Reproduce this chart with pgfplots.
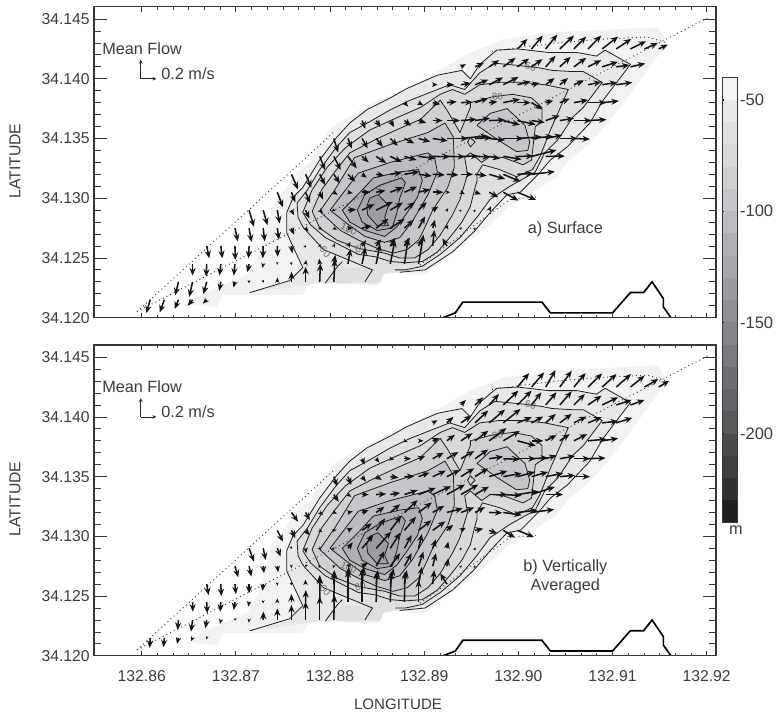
\documentclass[border=0pt]{standalone}
\usepackage{pgfplots}
\usepackage{pgfplotstable}
\usepackage{fontspec}
\setmainfont{Liberation Sans}
\pgfplotsset{compat=1.18}
\usetikzlibrary{arrows.meta}
\definecolor{txt}{HTML}{3C3C3E}
\definecolor{frm}{HTML}{38383A}
\definecolor{lbl}{HTML}{6E6E72}
\definecolor{ba}{HTML}{F2F2F4}
\definecolor{bb}{HTML}{E8E8EA}
\definecolor{bc}{HTML}{DEDFE1}
\definecolor{bd}{HTML}{D8D9DB}
\definecolor{be}{HTML}{CFD0D2}
\definecolor{bf}{HTML}{C5C6C9}
\definecolor{bg}{HTML}{BBBCBF}
\definecolor{bh}{HTML}{AFB0B3}
\definecolor{bi}{HTML}{A7A8AB}
\definecolor{bj}{HTML}{9B9CA0}
\definecolor{bk}{HTML}{8F9094}
\definecolor{bl}{HTML}{85868A}
\definecolor{bm}{HTML}{7A7B7F}
\definecolor{bn}{HTML}{6D6E71}
\definecolor{bo}{HTML}{626366}
\definecolor{bp}{HTML}{58595B}
\definecolor{bq}{HTML}{4A4B4D}
\definecolor{br}{HTML}{3E3F41}
\definecolor{bs}{HTML}{303031}
\definecolor{bt}{HTML}{231F20}

% bathymetric contours (longitude, latitude)
\pgfplotstableread[row sep=\\]{x y\\
132.8648 34.1211\\132.8667 34.1221\\132.8685 34.1227\\132.8712 34.1236\\132.8726 34.1255\\132.8738 34.1293\\132.8754 34.1309\\132.8763 34.1321\\132.8779 34.1330\\132.8789 34.1346\\132.8803 34.1360\\132.8824 34.1370\\132.8846 34.1380\\132.8882 34.1392\\132.8920 34.1409\\132.8949 34.1422\\132.8975 34.1430\\132.8984 34.1433\\132.9041 34.1439\\132.9094 34.1441\\132.9148 34.1443\\132.9158 34.1430\\132.9137 34.1407\\132.9108 34.1376\\132.9095 34.1363\\132.9076 34.1346\\132.9052 34.1330\\132.9041 34.1318\\132.9015 34.1305\\132.8988 34.1292\\132.8970 34.1278\\132.8946 34.1263\\132.8924 34.1250\\132.8901 34.1236\\132.8885 34.1236\\132.8860 34.1240\\132.8850 34.1227\\132.8779 34.1229\\132.8771 34.1219\\132.8686 34.1219\\132.8680 34.1209\\
}\Cforty
\pgfplotstableread[row sep=\\]{x y\\
132.8715 34.1221\\132.8757 34.1231\\132.8771 34.1242\\132.8761 34.1259\\132.8754 34.1271\\132.8754 34.1288\\132.8761 34.1301\\132.8771 34.1309\\132.8789 34.1332\\132.8807 34.1351\\132.8821 34.1363\\132.8839 34.1374\\132.8864 34.1384\\132.8882 34.1392\\132.8914 34.1403\\132.8940 34.1407\\132.8949 34.1400\\132.8959 34.1412\\132.8977 34.1424\\132.8999 34.1425\\132.9032 34.1422\\132.9062 34.1422\\132.9083 34.1419\\132.9092 34.1424\\132.9119 34.1412\\132.9090 34.1382\\132.9076 34.1363\\132.9052 34.1343\\132.9034 34.1332\\132.9021 34.1320\\132.9002 34.1305\\132.8988 34.1303\\132.8970 34.1288\\132.8953 34.1272\\132.8930 34.1255\\132.8901 34.1240\\132.8874 34.1238\\
}\Cfifty
\pgfplotstableread[row sep=\\]{x y\\
132.8795 34.1229\\132.8807 34.1242\\132.8845 34.1242\\132.8871 34.1242\\132.8899 34.1240\\132.8858 34.1238\\132.8853 34.1229\\
}\Cbottom
\pgfplotstableread[row sep=\\]{x y\\
132.8795 34.1229\\132.8807 34.1242\\132.8813 34.1247\\
}\Cbranch
\pgfplotstableread[row sep=\\]{x y\\
132.8837 34.1230\\132.8845 34.1240\\132.8793 34.1257\\132.8771 34.1276\\132.8766 34.1284\\132.8765 34.1296\\132.8776 34.1307\\132.8789 34.1324\\132.8807 34.1343\\132.8821 34.1355\\132.8842 34.1364\\132.8864 34.1374\\132.8885 34.1382\\132.8927 34.1395\\132.8943 34.1391\\132.8959 34.1405\\132.8975 34.1413\\132.9002 34.1411\\132.9023 34.1409\\132.9036 34.1407\\132.9058 34.1406\\132.9069 34.1406\\132.9089 34.1397\\132.9069 34.1376\\132.9058 34.1368\\132.9042 34.1349\\132.9028 34.1338\\132.9018 34.1322\\132.8991 34.1310\\132.8970 34.1299\\132.8956 34.1284\\132.8938 34.1267\\132.8917 34.1253\\132.8898 34.1243\\132.8880 34.1240\\132.8869 34.1240\\
}\Csixty
\pgfplotstableread[row sep=\\]{x y\\
132.8771 34.1288\\132.8781 34.1307\\132.8797 34.1326\\132.8816 34.1342\\132.8842 34.1357\\132.8867 34.1366\\132.8896 34.1376\\132.8917 34.1387\\132.8930 34.1391\\132.8943 34.1387\\132.8959 34.1395\\132.8980 34.1397\\132.9005 34.1397\\132.9028 34.1395\\132.9053 34.1391\\132.9048 34.1382\\132.9034 34.1357\\132.9023 34.1335\\132.9015 34.1324\\132.8998 34.1318\\132.8980 34.1324\\132.8962 34.1328\\132.8956 34.1320\\132.8956 34.1314\\132.8954 34.1309\\132.8949 34.1293\\132.8940 34.1280\\132.8927 34.1267\\132.8914 34.1255\\132.8898 34.1247\\132.8880 34.1246\\132.8864 34.1247\\132.8848 34.1251\\132.8830 34.1253\\132.8795 34.1267\\132.8779 34.1278\\132.8771 34.1288\\
}\Cseventy
\pgfplotstableread[row sep=\\]{x y\\
132.8781 34.1289\\132.8791 34.1307\\132.8805 34.1322\\132.8821 34.1338\\132.8848 34.1349\\132.8867 34.1356\\132.8896 34.1366\\132.8917 34.1382\\132.8924 34.1374\\132.8938 34.1355\\132.8949 34.1376\\132.8949 34.1380\\132.8973 34.1385\\132.8994 34.1387\\132.9014 34.1384\\132.9025 34.1376\\132.9025 34.1364\\132.9018 34.1360\\132.9014 34.1332\\132.9005 34.1328\\132.8984 34.1334\\132.8970 34.1335\\132.8961 34.1330\\132.8949 34.1338\\132.8943 34.1334\\132.8946 34.1320\\132.8938 34.1299\\132.8930 34.1286\\132.8917 34.1269\\132.8904 34.1257\\132.8890 34.1250\\132.8874 34.1250\\132.8858 34.1254\\132.8830 34.1258\\132.8807 34.1265\\132.8789 34.1275\\132.8781 34.1289\\
}\Ceighty
\pgfplotstableread[row sep=\\]{x y\\
132.8789 34.1289\\132.8805 34.1307\\132.8826 34.1334\\132.8864 34.1345\\132.8904 34.1355\\132.8922 34.1363\\132.8931 34.1351\\132.8932 34.1326\\132.8925 34.1309\\132.8909 34.1290\\132.8901 34.1276\\132.8894 34.1265\\132.8882 34.1257\\132.8867 34.1254\\132.8850 34.1258\\132.8830 34.1265\\132.8811 34.1273\\132.8789 34.1289\\
}\Cninety
\pgfplotstableread[row sep=\\]{x y\\
132.8956 34.1361\\132.8970 34.1371\\132.8988 34.1375\\132.9007 34.1361\\132.9012 34.1347\\132.9010 34.1340\\132.8998 34.1339\\132.8978 34.1349\\132.8956 34.1361\\
}\Cninetyb
\pgfplotstableread[row sep=\\]{x y\\
132.8949 34.1351\\132.8954 34.1347\\132.8949 34.1343\\132.8946 34.1347\\132.8949 34.1351\\
}\Cdiamond
\pgfplotstableread[row sep=\\]{x y\\
132.8800 34.1290\\132.8830 34.1321\\132.8864 34.1330\\132.8904 34.1338\\132.8911 34.1334\\132.8914 34.1322\\132.8904 34.1303\\132.8887 34.1280\\132.8874 34.1267\\132.8858 34.1263\\132.8837 34.1268\\132.8816 34.1280\\132.8800 34.1290\\
}\Chundred
\pgfplotstableread[row sep=\\]{x y\\
132.8813 34.1290\\132.8832 34.1305\\132.8846 34.1317\\132.8874 34.1322\\132.8894 34.1324\\132.8898 34.1315\\132.8893 34.1301\\132.8882 34.1288\\132.8871 34.1276\\132.8858 34.1268\\132.8837 34.1273\\132.8821 34.1280\\132.8813 34.1290\\
}\Choneten
\pgfplotstableread[row sep=\\]{x y\\
132.8829 34.1290\\132.8837 34.1303\\132.8853 34.1311\\132.8876 34.1317\\132.8880 34.1313\\132.8874 34.1300\\132.8871 34.1288\\132.8866 34.1275\\132.8850 34.1273\\132.8834 34.1280\\132.8829 34.1290\\
}\Chontwenty
\pgfplotstableread[row sep=\\]{x y\\
132.8842 34.1300\\132.8851 34.1303\\132.8862 34.1294\\132.8858 34.1284\\132.8862 34.1277\\132.8850 34.1277\\132.8840 34.1286\\132.8839 34.1293\\132.8842 34.1300\\
}\Chonthirty
% survey tracks
\pgfplotstableread[row sep=\\]{x y\\132.8595 34.1205\\132.8805 34.1356\\}\Lone
\pgfplotstableread[row sep=\\]{x y\\132.8595 34.1205\\132.9201 34.1451\\}\Ltwo
\pgfplotstableread[row sep=\\]{x y\\132.8892 34.1242\\132.8991 34.1299\\132.9019 34.1301\\}\Lthree
\pgfplotstableread[row sep=\\]{x y\\132.8972 34.1423\\132.8999 34.1426\\132.9041 34.1430\\132.9085 34.1433\\132.9137 34.1435\\132.9158 34.1430\\}\Lfour
% coast
\pgfplotstableread[row sep=\\]{x y\\132.8920 34.1200\\132.8933 34.1204\\132.8941 34.1213\\132.9025 34.1213\\132.9034 34.1204\\132.9100 34.1204\\132.9119 34.1221\\132.9133 34.1221\\132.9142 34.1230\\132.9154 34.1216\\132.9154 34.1209\\132.9162 34.1200\\}\Coast

% flow vectors: lon lat u v; u in 1/47 and v in 1/57 of the 0.2 m/s key arrow
\pgfplotstableread[row sep=\\]{lon lat u v\\
132.8609 34.1215 -12 -40\\132.8624 34.1215 -14 -38\\132.8639 34.1215 -12 -28\\132.8654 34.1215 -15 -18\\132.8669 34.1215 -12 -12\\
132.8639 34.1230 -10 -40\\132.8654 34.1230 -10 -45\\132.8669 34.1230 -10 -37\\132.8684 34.1230 -5 -27\\132.8699 34.1230 -5 -17\\132.8714 34.1230 0 -5\\132.8729 34.1230 1 -3\\132.8744 34.1230 0 13\\132.8759 34.1230 0 30\\132.8774 34.1230 0 45\\132.8789 34.1230 2 55\\132.8804 34.1230 3 68\\
132.8654 34.1245 0 -35\\132.8669 34.1245 -2 -38\\132.8684 34.1245 -4 -35\\132.8699 34.1245 -4 -35\\132.8714 34.1245 -5 -25\\132.8729 34.1245 -2 -12\\132.8744 34.1245 0 -3\\132.8759 34.1245 1 -3\\132.8774 34.1245 2 12\\132.8789 34.1245 -2 16\\132.8804 34.1245 5 27\\132.8819 34.1245 8 45\\132.8834 34.1245 10 50\\132.8849 34.1245 12 60\\132.8864 34.1245 14 72\\132.8879 34.1245 12 78\\132.8894 34.1245 15 88\\
132.8669 34.1260 8 -37\\132.8684 34.1260 5 -37\\132.8699 34.1260 1 -42\\132.8714 34.1260 -2 -37\\132.8729 34.1260 -1 -37\\132.8744 34.1260 1 -32\\132.8759 34.1260 3 -22\\132.8774 34.1260 2 2\\132.8789 34.1260 2 7\\132.8804 34.1260 3 8\\132.8819 34.1260 8 12\\132.8834 34.1260 12 18\\132.8849 34.1260 15 20\\132.8864 34.1260 15 25\\132.8879 34.1260 17 25\\132.8894 34.1260 12 22\\132.8909 34.1260 5 48\\132.8924 34.1260 -13 23\\
132.8699 34.1275 9 -40\\132.8714 34.1275 8 -42\\132.8729 34.1275 5 -40\\132.8744 34.1275 5 -35\\132.8759 34.1275 8 -20\\132.8774 34.1275 9 -10\\132.8789 34.1275 8 -5\\132.8804 34.1275 10 -5\\132.8819 34.1275 15 0\\132.8834 34.1275 29 7\\132.8849 34.1275 37 28\\132.8864 34.1275 44 28\\132.8879 34.1275 29 25\\132.8894 34.1275 20 35\\132.8909 34.1275 7 25\\132.8924 34.1275 4 10\\132.8939 34.1275 2 3\\132.8954 34.1275 1 1\\
132.8714 34.1290 15 -50\\132.8729 34.1290 13 -45\\132.8744 34.1290 7 -40\\132.8759 34.1290 8 -15\\132.8774 34.1290 12 -25\\132.8789 34.1290 10 -8\\132.8804 34.1290 5 -2\\132.8819 34.1290 25 2\\132.8834 34.1290 37 18\\132.8849 34.1290 50 25\\132.8864 34.1290 38 23\\132.8879 34.1290 32 24\\132.8894 34.1290 25 24\\132.8909 34.1290 17 11\\132.8924 34.1290 5 6\\132.8939 34.1290 1 1\\132.8954 34.1290 1 1\\132.8969 34.1290 6 12\\
132.8744 34.1305 17 -45\\132.8759 34.1305 12 -30\\132.8774 34.1305 14 -32\\132.8789 34.1305 10 -22\\132.8804 34.1305 12 -8\\132.8819 34.1305 15 -3\\132.8834 34.1305 25 0\\132.8849 34.1305 28 5\\132.8864 34.1305 38 15\\132.8879 34.1305 38 17\\132.8894 34.1305 35 9\\132.8909 34.1305 32 0\\132.8924 34.1305 10 0\\132.8939 34.1305 12 -5\\132.8954 34.1305 18 -6\\132.8969 34.1305 28 -15\\132.8984 34.1305 45 -25\\132.8999 34.1305 56 -23\\
132.8759 34.1320 20 -45\\132.8774 34.1320 18 -40\\132.8789 34.1320 16 -32\\132.8804 34.1320 18 -27\\132.8819 34.1320 22 -22\\132.8834 34.1320 14 -10\\132.8849 34.1320 25 -4\\132.8864 34.1320 35 5\\132.8879 34.1320 45 8\\132.8894 34.1320 40 -5\\132.8909 34.1320 37 -2\\132.8924 34.1320 35 -2\\132.8939 34.1320 37 0\\132.8954 34.1320 35 -4\\132.8969 34.1320 48 -14\\132.8984 34.1320 52 -22\\132.8999 34.1320 48 3\\132.9014 34.1320 70 8\\
132.8789 34.1335 16 -41\\132.8804 34.1335 21 -41\\132.8819 34.1335 27 -36\\132.8834 34.1335 20 -18\\132.8849 34.1335 30 -20\\132.8864 34.1335 35 -17\\132.8879 34.1335 37 -11\\132.8894 34.1335 50 -6\\132.8909 34.1335 52 -1\\132.8924 34.1335 55 -1\\132.8939 34.1335 52 1\\132.8954 34.1335 45 -1\\132.8969 34.1335 33 -7\\132.8984 34.1335 55 -9\\132.8999 34.1335 48 1\\132.9014 34.1335 75 19\\132.9029 34.1335 58 1\\
132.8804 34.1350 13 -42\\132.8819 34.1350 12 -30\\132.8834 34.1350 17 -30\\132.8849 34.1350 20 -25\\132.8864 34.1350 22 -22\\132.8879 34.1350 30 -15\\132.8894 34.1350 35 -10\\132.8909 34.1350 45 -7\\132.8924 34.1350 65 0\\132.8939 34.1350 80 8\\132.8954 34.1350 50 3\\132.8969 34.1350 48 -5\\132.8984 34.1350 60 0\\132.8999 34.1350 73 5\\132.9014 34.1350 65 7\\132.9029 34.1350 50 10\\132.9044 34.1350 53 0\\132.9059 34.1350 48 -2\\
132.8834 34.1365 10 -25\\132.8849 34.1365 13 -20\\132.8864 34.1365 12 -20\\132.8879 34.1365 20 -16\\132.8894 34.1365 23 -7\\132.8909 34.1365 30 0\\132.8924 34.1365 40 0\\132.8939 34.1365 47 4\\132.8954 34.1365 45 7\\132.8969 34.1365 48 2\\132.8984 34.1365 50 -13\\132.8999 34.1365 55 -12\\132.9014 34.1365 40 -6\\132.9029 34.1365 43 15\\132.9044 34.1365 43 7\\132.9059 34.1365 53 0\\132.9074 34.1365 56 3\\
132.8879 34.1380 12 -12\\132.8894 34.1380 15 -8\\132.8909 34.1380 23 -5\\132.8924 34.1380 30 3\\132.8939 34.1380 35 2\\132.8954 34.1380 40 13\\132.8969 34.1380 25 3\\132.8984 34.1380 50 10\\132.8999 34.1380 40 0\\132.9014 34.1380 33 -20\\132.9029 34.1380 23 6\\132.9044 34.1380 30 12\\132.9059 34.1380 43 8\\132.9074 34.1380 55 0\\132.9089 34.1380 50 5\\
132.8909 34.1395 15 0\\132.8924 34.1395 22 0\\132.8939 34.1395 30 5\\132.8954 34.1395 40 15\\132.8969 34.1395 42 22\\132.8984 34.1395 45 23\\132.8999 34.1395 40 10\\132.9014 34.1395 25 5\\132.9029 34.1395 27 20\\132.9044 34.1395 25 20\\132.9059 34.1395 30 13\\132.9074 34.1395 40 8\\132.9089 34.1395 45 7\\132.9104 34.1395 48 7\\
132.8939 34.1410 15 8\\132.8954 34.1410 27 12\\132.8969 34.1410 30 20\\132.8984 34.1410 37 27\\132.8999 34.1410 35 25\\132.9014 34.1410 33 23\\132.9029 34.1410 30 33\\132.9044 34.1410 33 30\\132.9059 34.1410 37 27\\132.9074 34.1410 40 20\\132.9089 34.1410 47 15\\132.9104 34.1410 40 5\\132.9119 34.1410 45 10\\
132.8999 34.1425 30 30\\132.9014 34.1425 34 40\\132.9029 34.1425 35 43\\132.9044 34.1425 43 40\\132.9059 34.1425 37 37\\132.9074 34.1425 40 40\\132.9089 34.1425 48 37\\132.9104 34.1425 45 30\\132.9119 34.1425 47 23\\132.9134 34.1425 40 18\\132.9149 34.1425 28 13\\
}\FlowA
\pgfplotstableread[row sep=\\]{lon lat u v\\
132.8609 34.1215 -2 -30\\132.8624 34.1215 -3 -28\\132.8639 34.1215 -5 -18\\132.8654 34.1215 -5 -10\\132.8669 34.1215 -2 -3\\
132.8639 34.1230 -3 -30\\132.8654 34.1230 -5 -35\\132.8669 34.1230 -4 -25\\132.8684 34.1230 -3 -12\\132.8699 34.1230 -1 -2\\132.8714 34.1230 -1 -8\\132.8729 34.1230 1 25\\132.8744 34.1230 0 35\\132.8759 34.1230 0 45\\132.8774 34.1230 0 55\\132.8789 34.1230 0 70\\132.8804 34.1230 2 75\\
132.8654 34.1245 1 -29\\132.8669 34.1245 2 -34\\132.8684 34.1245 -2 -29\\132.8699 34.1245 -4 -24\\132.8714 34.1245 -3 -14\\132.8729 34.1245 0 -4\\132.8744 34.1245 0 11\\132.8759 34.1245 0 24\\132.8774 34.1245 1 36\\132.8789 34.1245 1 76\\132.8804 34.1245 2 90\\132.8819 34.1245 0 96\\132.8834 34.1245 0 100\\132.8849 34.1245 2 91\\132.8864 34.1245 3 91\\132.8879 34.1245 2 91\\132.8894 34.1245 0 66\\
132.8669 34.1260 6 -33\\132.8684 34.1260 2 -36\\132.8699 34.1260 3 -30\\132.8714 34.1260 0 -28\\132.8729 34.1260 -2 -20\\132.8744 34.1260 0 -5\\132.8759 34.1260 2 -3\\132.8774 34.1260 -1 14\\132.8789 34.1260 0 27\\132.8804 34.1260 2 42\\132.8819 34.1260 3 52\\132.8834 34.1260 5 52\\132.8849 34.1260 5 42\\132.8864 34.1260 10 47\\132.8879 34.1260 7 42\\132.8894 34.1260 10 52\\132.8909 34.1260 5 42\\132.8924 34.1260 -20 32\\
132.8699 34.1275 10 -33\\132.8714 34.1275 7 -31\\132.8729 34.1275 3 -21\\132.8744 34.1275 3 -18\\132.8759 34.1275 1 -6\\132.8774 34.1275 -1 -1\\132.8789 34.1275 4 2\\132.8804 34.1275 5 3\\132.8819 34.1275 10 7\\132.8834 34.1275 18 10\\132.8849 34.1275 25 45\\132.8864 34.1275 30 39\\132.8879 34.1275 22 39\\132.8894 34.1275 15 44\\132.8909 34.1275 10 39\\132.8924 34.1275 5 24\\132.8939 34.1275 2 3\\132.8954 34.1275 1 1\\
132.8714 34.1290 15 -40\\132.8729 34.1290 8 -35\\132.8744 34.1290 10 -25\\132.8759 34.1290 1 -2\\132.8774 34.1290 2 -15\\132.8789 34.1290 5 -5\\132.8804 34.1290 3 2\\132.8819 34.1290 15 18\\132.8834 34.1290 34 40\\132.8849 34.1290 45 50\\132.8864 34.1290 30 47\\132.8879 34.1290 22 40\\132.8894 34.1290 10 43\\132.8909 34.1290 10 27\\132.8924 34.1290 5 20\\132.8939 34.1290 1 2\\132.8954 34.1290 1 2\\
132.8744 34.1305 17 -34\\132.8759 34.1305 12 -23\\132.8774 34.1305 13 -15\\132.8789 34.1305 8 -5\\132.8804 34.1305 8 2\\132.8819 34.1305 15 8\\132.8834 34.1305 29 21\\132.8849 34.1305 27 36\\132.8864 34.1305 33 43\\132.8879 34.1305 35 41\\132.8894 34.1305 38 30\\132.8909 34.1305 38 27\\132.8924 34.1305 19 17\\132.8939 34.1305 15 8\\132.8954 34.1305 25 5\\132.8969 34.1305 25 -10\\132.8984 34.1305 35 -22\\132.8999 34.1305 50 -20\\
132.8759 34.1320 20 -28\\132.8774 34.1320 13 -23\\132.8789 34.1320 10 -8\\132.8804 34.1320 10 -3\\132.8819 34.1320 15 3\\132.8834 34.1320 20 7\\132.8849 34.1320 25 17\\132.8864 34.1320 30 25\\132.8879 34.1320 40 37\\132.8894 34.1320 40 30\\132.8909 34.1320 35 20\\132.8924 34.1320 48 12\\132.8939 34.1320 40 15\\132.8954 34.1320 30 16\\132.8969 34.1320 40 -1\\132.8984 34.1320 55 -8\\132.8999 34.1320 60 7\\132.9014 34.1320 68 9\\
132.8804 34.1335 15 -22\\132.8819 34.1335 10 -7\\132.8834 34.1335 20 0\\132.8849 34.1335 30 2\\132.8864 34.1335 30 5\\132.8879 34.1335 40 13\\132.8894 34.1335 52 20\\132.8909 34.1335 55 25\\132.8924 34.1335 55 30\\132.8939 34.1335 52 30\\132.8954 34.1335 42 24\\132.8969 34.1335 55 0\\132.8984 34.1335 55 -3\\132.8999 34.1335 63 10\\132.9014 34.1335 70 23\\132.9029 34.1335 53 0\\
132.8804 34.1350 10 -29\\132.8819 34.1350 10 -25\\132.8834 34.1350 12 -15\\132.8849 34.1350 17 -10\\132.8864 34.1350 25 -3\\132.8879 34.1350 30 1\\132.8894 34.1350 33 12\\132.8909 34.1350 40 18\\132.8924 34.1350 40 20\\132.8939 34.1350 40 25\\132.8954 34.1350 40 25\\132.8969 34.1350 55 17\\132.8984 34.1350 55 10\\132.8999 34.1350 53 14\\132.9014 34.1350 50 14\\132.9029 34.1350 53 10\\132.9044 34.1350 46 4\\132.9059 34.1350 48 0\\
132.8834 34.1365 8 -18\\132.8849 34.1365 10 -12\\132.8864 34.1365 12 -2\\132.8879 34.1365 20 0\\132.8894 34.1365 20 8\\132.8909 34.1365 33 18\\132.8924 34.1365 35 20\\132.8939 34.1365 40 23\\132.8954 34.1365 40 28\\132.8969 34.1365 42 6\\132.8984 34.1365 50 -2\\132.8999 34.1365 55 0\\132.9014 34.1365 50 3\\132.9029 34.1365 33 10\\132.9044 34.1365 46 8\\132.9059 34.1365 48 0\\132.9074 34.1365 53 2\\
132.8879 34.1380 10 -4\\132.8894 34.1380 15 0\\132.8909 34.1380 20 8\\132.8924 34.1380 25 18\\132.8939 34.1380 35 23\\132.8954 34.1380 40 30\\132.8969 34.1380 52 38\\132.8984 34.1380 50 30\\132.8999 34.1380 55 -15\\132.9014 34.1380 35 0\\132.9029 34.1380 33 17\\132.9044 34.1380 30 20\\132.9059 34.1380 40 20\\132.9074 34.1380 56 5\\132.9089 34.1380 48 7\\
132.8909 34.1395 15 8\\132.8924 34.1395 20 18\\132.8939 34.1395 32 22\\132.8954 34.1395 40 37\\132.8969 34.1395 48 40\\132.8984 34.1395 52 42\\132.8999 34.1395 43 17\\132.9014 34.1395 35 19\\132.9029 34.1395 31 27\\132.9044 34.1395 36 27\\132.9059 34.1395 38 19\\132.9074 34.1395 41 17\\132.9089 34.1395 48 5\\132.9104 34.1395 48 15\\
132.8939 34.1410 15 15\\132.8954 34.1410 25 23\\132.8969 34.1410 30 33\\132.8984 34.1410 45 43\\132.8999 34.1410 43 43\\132.9014 34.1410 30 38\\132.9029 34.1410 33 38\\132.9044 34.1410 36 41\\132.9059 34.1410 33 33\\132.9074 34.1410 41 28\\132.9089 34.1410 48 23\\132.9104 34.1410 46 15\\132.9119 34.1410 43 15\\
132.8999 34.1425 35 42\\132.9014 34.1425 38 44\\132.9029 34.1425 30 51\\132.9044 34.1425 36 49\\132.9059 34.1425 35 42\\132.9074 34.1425 43 41\\132.9089 34.1425 43 39\\132.9104 34.1425 44 39\\132.9119 34.1425 43 34\\132.9134 34.1425 41 24\\132.9149 34.1425 32 19\\
}\FlowB
\pgfplotstableread[row sep=\\]{lon lat u v\\132.8599 34.1400 47 0\\132.8599 34.1400 0 57\\}\FlowKey

\pgfplotsset{
  pane/.style={anchor=south west, width=466.5pt, height=233.1pt, scale only axis,
    xmin=132.85493, xmax=132.92099, ymin=34.12, ymax=34.14602,
    axis line style={frm,line width=0.85pt}, axis on top,
    tick style={frm,line width=0.6pt}, tick align=inside,
    xtick={132.86,132.87,132.88,132.89,132.90,132.91,132.92},
    ytick={34.12,34.125,34.13,34.135,34.14,34.145},
    minor x tick num=5, minor y tick num=4,
    scaled ticks=false},
  xpart/.style={pane, major tick length=3.75pt, minor tick length=2.25pt, ytick=\empty, minor y tick num=0, yticklabels={},
    xticklabels={}},
  ypart/.style={pane, major tick length=9.5pt, minor tick length=5pt, xtick=\empty, minor x tick num=0, xticklabels={},
    yticklabels={34.120,34.125,34.130,34.135,34.140,34.145},
    yticklabel style={font=\fontsize{11.8}{14}\selectfont, text=txt, inner sep=0pt, xshift=-3pt}},
  cline/.style={no markers, line width=0.6pt, color=black!88, forget plot},
  cfill/.style={no markers, draw=none, fill=#1, forget plot},
  track/.style={no markers, color=black!80, line width=0.7pt, dash pattern=on 0.7pt off 2.4pt, forget plot},
  flow/.style={forget plot, no markers, black!92, line width=#1,
    point meta={sqrt(\thisrow{u}^2+\thisrow{v}^2)}, point meta min=0, point meta max=100,
    quiver={u=\thisrow{u}*0.0000354, v=\thisrow{v}*0.0000279,
      every arrow/.append style={-{Stealth[length=5.6pt,width=4.6pt,scale={min(1,0.3+\pgfplotspointmetatransformed/320)}]}}}},
  flowkey/.style={forget plot, no markers, black!85, line width=0.6pt,
    quiver={u=\thisrow{u}*0.0000354, v=\thisrow{v}*0.0000279,
      every arrow/.append style={-{Stealth[length=3pt,width=2.6pt]}}}},
}
\tikzset{cl/.style={lbl,inner sep=0pt,font=\fontsize{7.4}{8}\selectfont}}
\newcommand{\bathy}{%
  \addplot[cfill=ba] table{\Cforty};
  \addplot[cfill=bb] table{\Cfifty};
  \addplot[cfill=bc] table{\Cbottom};
  \addplot[cfill=bc] table{\Csixty};
  \addplot[cfill=bd] table{\Cseventy};
  \addplot[cfill=be] table{\Ceighty};
  \addplot[cfill=bf] table{\Cninety};
  \addplot[cfill=bf] table{\Cninetyb};
  \addplot[cfill=bg] table{\Chundred};
  \addplot[cfill=bh] table{\Choneten};
  \addplot[cfill=bi] table{\Chontwenty};
  \addplot[cfill=bj] table{\Chonthirty};
  \addplot[cline] table{\Cfifty};
  \addplot[cline] table{\Cbranch};
  \addplot[cline] table{\Csixty};
  \addplot[cline] table{\Cseventy};
  \addplot[cline] table{\Ceighty};
  \addplot[cline] table{\Cninety};
  \addplot[cline] table{\Cninetyb};
  \addplot[cline] table{\Cdiamond};
  \addplot[cline] table{\Chundred};
  \addplot[cline] table{\Choneten};
  \addplot[cline] table{\Chontwenty};
  \addplot[cline] table{\Chonthirty};
  \addplot[track] table{\Lone};
  \addplot[track] table{\Ltwo};
  \addplot[track] table{\Lthree};
  \addplot[track] table{\Lfour};
  \node[cl,rotate=-50] at (axis cs:132.8795,34.1255) {60};
  \node[cl,rotate=25] at (axis cs:132.8832,34.1258) {80};
  \node[cl,rotate=-25] at (axis cs:132.8820,34.1274) {100};
  \node[cl,rotate=-15] at (axis cs:132.9013,34.1410) {60};
  \node[cl,rotate=10] at (axis cs:132.8978,34.1385) {80};
}
\newcommand{\coastline}{\addplot[no markers, black, line width=1.25pt, forget plot] table{\Coast};}

\begin{document}
\begin{tikzpicture}
\path[use as bounding box] (0,0) rectangle (582.75pt,534.75pt);
\tikzset{tx/.style={text=txt,font=\fontsize{12.2}{14.5}\selectfont,inner sep=0pt}}

% panel a
\begin{axis}[xpart, at={(70.5pt,296.5pt)}]
\bathy
\addplot[flow=1.15pt] table[x=lon,y=lat]{\FlowA};
\addplot[flowkey] table[x=lon,y=lat]{\FlowKey};
\coastline
\end{axis}
\begin{axis}[ypart, at={(70.5pt,296.5pt)}]
\end{axis}

% panel b (same geometry; key shifted with the axes)
\begin{axis}[xpart, at={(70.5pt,42.9pt)},
    xticklabels={132.86,132.87,132.88,132.89,132.90,132.91,132.92},
    xticklabel style={font=\fontsize{11.8}{14}\selectfont, text=txt, inner sep=0pt, yshift=-10.5pt}]
\bathy
\addplot[flow=1.15pt] table[x=lon,y=lat]{\FlowB};
\addplot[flowkey] table[x=lon,y=lat]{\FlowKey};
\coastline
\end{axis}
\begin{axis}[ypart, at={(70.5pt,42.9pt)}]
\end{axis}

% colour scale
\begin{axis}[anchor=south west, at={(541.7pt,142.7pt)}, width=11.55pt, height=333.75pt, scale only axis,
    xmin=0, xmax=1, ymin=-240, ymax=-40, xtick=\empty, axis on top,
    axis line style={frm,line width=0.85pt},
    ytick={-200,-150,-100,-50}, yticklabels={-200,-150,-100,-50},
    tick align=inside, major tick length=1.6pt, tick style={black,line width=0.8pt},
    ytick pos=left, yticklabel pos=right,
    yticklabel style={font=\fontsize{12.4}{14}\selectfont, text=txt, inner sep=0pt, xshift=1.6pt}]
\addplot[cfill=ba] coordinates {(0,-50)(1,-50)(1,-40)(0,-40)};
\addplot[cfill=bb] coordinates {(0,-60)(1,-60)(1,-50)(0,-50)};
\addplot[cfill=bc] coordinates {(0,-70)(1,-70)(1,-60)(0,-60)};
\addplot[cfill=bd] coordinates {(0,-80)(1,-80)(1,-70)(0,-70)};
\addplot[cfill=be] coordinates {(0,-90)(1,-90)(1,-80)(0,-80)};
\addplot[cfill=bf] coordinates {(0,-100)(1,-100)(1,-90)(0,-90)};
\addplot[cfill=bg] coordinates {(0,-110)(1,-110)(1,-100)(0,-100)};
\addplot[cfill=bh] coordinates {(0,-120)(1,-120)(1,-110)(0,-110)};
\addplot[cfill=bi] coordinates {(0,-130)(1,-130)(1,-120)(0,-120)};
\addplot[cfill=bj] coordinates {(0,-140)(1,-140)(1,-130)(0,-130)};
\addplot[cfill=bk] coordinates {(0,-150)(1,-150)(1,-140)(0,-140)};
\addplot[cfill=bl] coordinates {(0,-160)(1,-160)(1,-150)(0,-150)};
\addplot[cfill=bm] coordinates {(0,-170)(1,-170)(1,-160)(0,-160)};
\addplot[cfill=bn] coordinates {(0,-180)(1,-180)(1,-170)(0,-170)};
\addplot[cfill=bo] coordinates {(0,-190)(1,-190)(1,-180)(0,-180)};
\addplot[cfill=bp] coordinates {(0,-200)(1,-200)(1,-190)(0,-190)};
\addplot[cfill=bq] coordinates {(0,-210)(1,-210)(1,-200)(0,-200)};
\addplot[cfill=br] coordinates {(0,-220)(1,-220)(1,-210)(0,-210)};
\addplot[cfill=bs] coordinates {(0,-230)(1,-230)(1,-220)(0,-220)};
\addplot[cfill=bt] coordinates {(0,-240)(1,-240)(1,-230)(0,-230)};
\end{axis}

% text
\node[tx] at (552pt,137pt) {m};
\node[tx,anchor=west] at (76.5pt,497.9pt) {Mean Flow};
\node[tx,anchor=west] at (120.8pt,479.2pt) {0.2 m/s};
\node[tx,anchor=west] at (76.5pt,244.4pt) {Mean Flow};
\node[tx,anchor=west] at (120.8pt,225.7pt) {0.2 m/s};
\node[tx] at (424pt,363pt) {a) Surface};
\node[tx] at (424pt,109.5pt) {b) Vertically};
\node[tx] at (424pt,95.2pt) {Averaged};
\node[tx,font=\fontsize{11.8}{14}\selectfont,rotate=90] at (11.2pt,414pt) {LATITUDE};
\node[tx,font=\fontsize{11.8}{14}\selectfont,rotate=90] at (11.2pt,160.5pt) {LATITUDE};
\node[tx,font=\fontsize{11.3}{14}\selectfont] at (298.5pt,6.7pt) {LONGITUDE};
\end{tikzpicture}
\end{document}
